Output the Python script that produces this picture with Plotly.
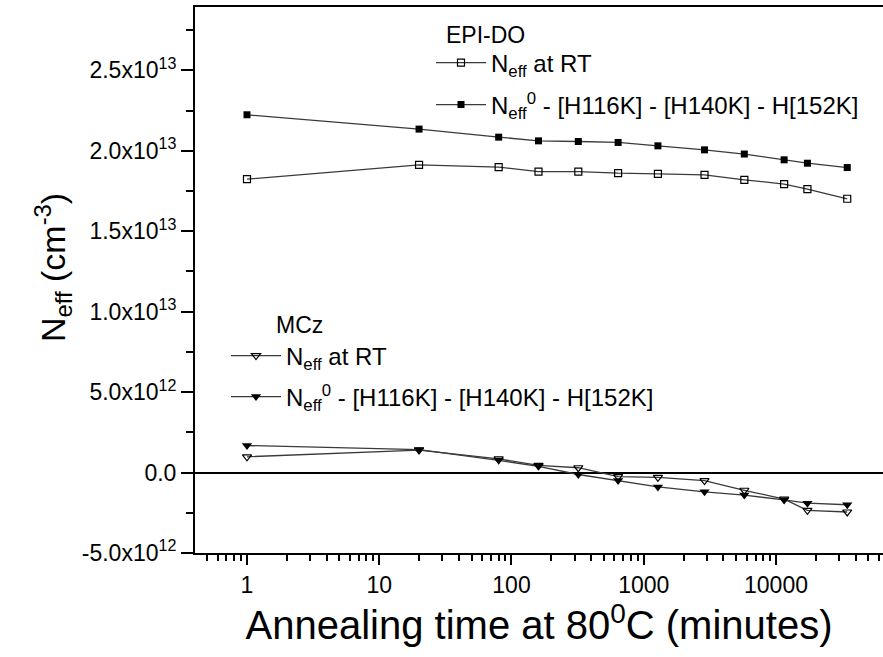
import plotly.graph_objects as go

# ---- data ----
time_min = [1, 20, 80, 160, 320, 640, 1280, 2880, 5760, 11520, 17280, 34560]
# EPI-DO, units of 1e13 cm^-3
epi_rt = [1.824, 1.913, 1.899, 1.871, 1.871, 1.861, 1.857, 1.851, 1.820, 1.793, 1.762, 1.702]
epi_corr = [2.224, 2.135, 2.085, 2.062, 2.058, 2.052, 2.031, 2.006, 1.980, 1.944, 1.923, 1.896]
# MCz, units of 1e12 cm^-3
mcz_rt = [0.98, 1.40, 0.85, 0.45, 0.30, -0.25, -0.30, -0.50, -1.10, -1.65, -2.35, -2.45]
mcz_corr = [1.68, 1.43, 0.76, 0.39, -0.12, -0.50, -0.89, -1.20, -1.40, -1.70, -1.90, -2.00]

y_tickvals = [-5e12, 0, 5e12, 1e13, 1.5e13, 2e13, 2.5e13]
y_ticktext = ["-5.0x10<sup>12</sup>", "0.0", "5.0x10<sup>12</sup>", "1.0x10<sup>13</sup>",
              "1.5x10<sup>13</sup>", "2.0x10<sup>13</sup>", "2.5x10<sup>13</sup>"]
x_tickvals = [1, 10, 100, 1000, 10000]
x_ticktext = ["1", "10", "100", "1000", "10000"]
x_minor = [k * 10 ** d for d in range(-1, 5) for k in range(2, 10) if 0.4 <= k * 10 ** d <= 65000]

label_rt = "N<sub>eff</sub> at RT"
label_corr = "N<sub>eff</sub><sup>0</sup> - [H116K] - [H140K] - H[152K]"
y_title = "N<sub>eff</sub> (cm<sup>-3</sup>)"
x_title = "Annealing time at 80<sup>0</sup>C (minutes)"

FONT = "Liberation Sans, Arial, sans-serif"
LINE_C = "#3a3a3a"

fig = go.Figure()
fig.add_trace(go.Scatter(x=time_min, y=[v * 1e13 for v in epi_rt], mode="lines+markers",
                         name=label_rt, legend="legend", showlegend=True,
                         line=dict(color=LINE_C, width=1.3),
                         marker=dict(symbol="square-open", size=7, color="black", line=dict(width=1.2))))
fig.add_trace(go.Scatter(x=time_min, y=[v * 1e13 for v in epi_corr], mode="lines+markers",
                         name=label_corr, legend="legend2", showlegend=True,
                         line=dict(color=LINE_C, width=1.3),
                         marker=dict(symbol="square", size=7, color="black")))
fig.add_trace(go.Scatter(x=time_min, y=[v * 1e12 for v in mcz_rt], mode="lines+markers",
                         name=label_rt, legend="legend3", showlegend=True,
                         line=dict(color=LINE_C, width=1.3),
                         marker=dict(symbol="triangle-down-open", size=8, color="black", line=dict(width=1.2))))
fig.add_trace(go.Scatter(x=time_min, y=[v * 1e12 for v in mcz_corr], mode="lines+markers",
                         name=label_corr, legend="legend4", showlegend=True,
                         line=dict(color=LINE_C, width=1.3),
                         marker=dict(symbol="triangle-down", size=9, color="black")))

W, H = 883, 657
L, R, T, B = 195, 0, 7, 104

def px(x):
    return (x - L) / (W - L - R)

def py(y):
    return (H - B - y) / (H - T - B)

leg_common = dict(bgcolor="rgba(0,0,0,0)", font=dict(family=FONT, size=24, color="black"),
                  xanchor="left", yanchor="middle", itemwidth=50, visible=True)

fig.update_layout(
    width=W, height=H,
    margin=dict(l=L, r=R, t=T, b=B),
    paper_bgcolor="white", plot_bgcolor="white",
    font=dict(family=FONT, color="black"),
    showlegend=True,
    legend=dict(x=px(431), y=py(63), **leg_common),
    legend2=dict(x=px(431), y=py(105), **leg_common),
    legend3=dict(x=px(226), y=py(356), **leg_common),
    legend4=dict(x=px(226), y=py(397), **leg_common),
    annotations=[
        dict(text="EPI-DO", x=px(485), y=py(20), xref="paper", yref="paper", showarrow=False,
             font=dict(family=FONT, size=23, color="black")),
        dict(text="MCz", x=px(274), y=py(325), xref="paper", yref="paper", showarrow=False,
             font=dict(family=FONT, size=23, color="black")),
        dict(text=y_title, textangle=-90, x=px(53), y=py(268), xref="paper", yref="paper",
             xanchor="center", yanchor="middle", showarrow=False,
             font=dict(family=FONT, size=34, color="black")),
    ],
    xaxis=dict(
        type="log", range=[-0.393, 4.809],
        tickvals=x_tickvals, ticktext=x_ticktext,
        ticks="outside", ticklen=10, tickwidth=2, tickcolor="black",
        minor=dict(tickvals=x_minor, ticks="outside", ticklen=6, tickwidth=1.5, tickcolor="black"),
        showline=True, linecolor="black", linewidth=2, mirror=True,
        showgrid=False, zeroline=False,
        tickfont=dict(family=FONT, size=23, color="black"),
        title=dict(text=x_title, font=dict(family=FONT, size=40, color="black"), standoff=11),
    ),
    yaxis=dict(
        range=[-5e12, 2.894e13],
        tickvals=y_tickvals, ticktext=y_ticktext,
        ticks="outside", ticklen=12, tickwidth=2, tickcolor="black",
        minor=dict(dtick=2.5e12, ticks="outside", ticklen=7, tickwidth=1.5, tickcolor="black"),
        showline=True, linecolor="black", linewidth=2, mirror=False,
        showgrid=False,
        zeroline=True, zerolinecolor="black", zerolinewidth=2,
        tickfont=dict(family=FONT, size=23, color="black"),
    ),
)

fig.write_html("out.html")
